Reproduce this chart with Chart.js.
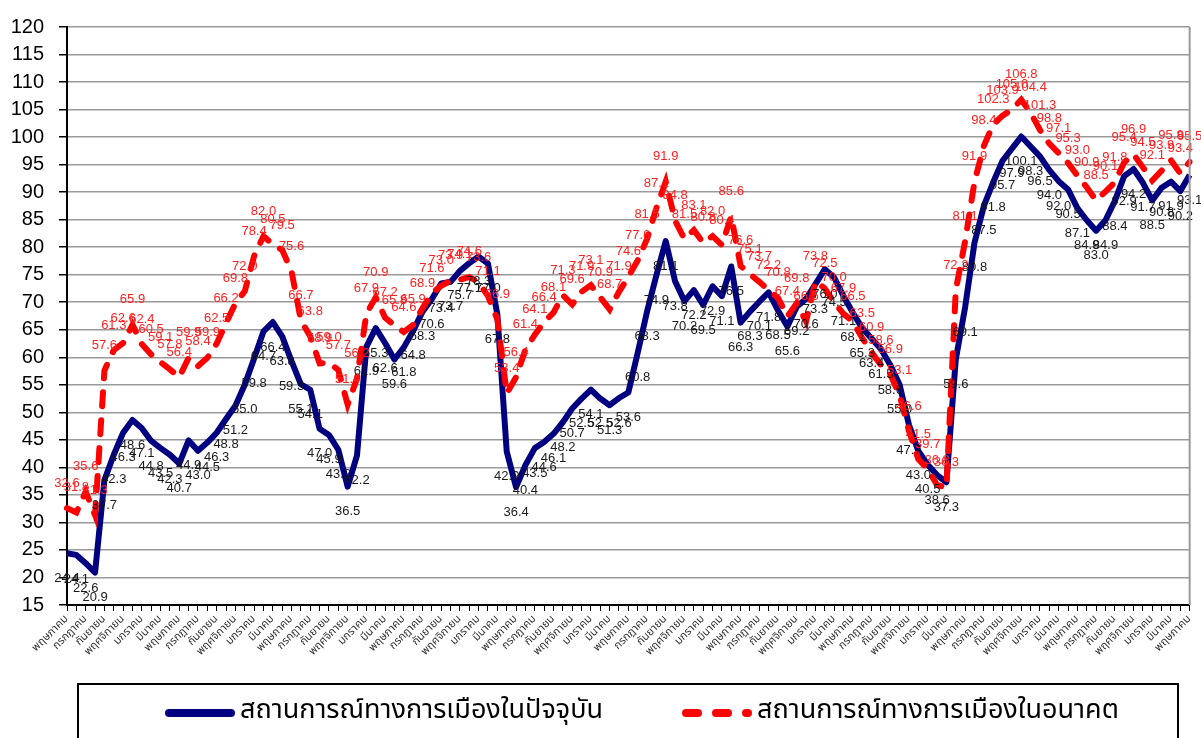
<!DOCTYPE html>
<html>
<head>
<meta charset="utf-8">
<script src="https://cdn.jsdelivr.net/npm/chart.js@4.4.1/dist/chart.umd.min.js"></script>
<style>
  html, body { margin: 0; padding: 0; background: #fff; }
  #wrap { width: 1201px; height: 738px; overflow: hidden; }
</style>
</head>
<body>
<div id="wrap"><canvas id="politicsChart" width="1201" height="738"></canvas></div>
<script>
// month names, the series starts at พฤษภาคม and runs 121 months
const MONTH_NAMES = ['มกราคม', 'กุมภาพันธ์', 'มีนาคม', 'เมษายน', 'พฤษภาคม', 'มิถุนายน',
  'กรกฎาคม', 'สิงหาคม', 'กันยายน', 'ตุลาคม', 'พฤศจิกายน', 'ธันวาคม'];
const FIRST_MONTH = 4;
const POINT_COUNT = 121;

const SERIES_NAMES = ['สถานการณ์ทางการเมืองในปัจจุบัน', 'สถานการณ์ทางการเมืองในอนาคต'];

const currentSituation = [
  24.4, 24.1, 22.6, 20.9, 37.7, 42.3, 46.3, 48.6, 47.1, 44.8,
  43.5, 42.3, 40.7, 44.9, 43.0, 44.5, 46.3, 48.8, 51.2, 55.0,
  59.8, 64.7, 66.4, 63.8, 59.3, 55.1, 54.1, 47.0, 45.9, 43.2,
  36.5, 42.2, 61.9, 65.3, 62.6, 59.6, 61.8, 64.8, 68.3, 70.6,
  73.4, 73.7, 75.7, 77.1, 78.3, 77.0, 67.8, 42.9, 36.4, 40.4,
  43.5, 44.6, 46.1, 48.2, 50.7, 52.5, 54.1, 52.5, 51.3, 52.6,
  53.6, 60.8, 68.3, 74.9, 81.1, 73.8, 70.2, 72.2, 69.5, 72.9,
  71.1, 76.5, 66.3, 68.3, 70.1, 71.8, 68.5, 65.6, 69.2, 70.6,
  73.3, 76.0, 74.5, 71.1, 68.1, 65.3, 63.4, 61.5, 58.6, 55.0,
  47.7, 43.0, 40.5, 38.6, 37.3, 59.6, 69.1, 80.8, 87.5, 91.8,
  95.7, 97.9, 100.1, 98.3, 96.5, 94.0, 92.0, 90.5, 87.1, 84.9,
  83.0, 84.9, 88.4, 92.9, 94.2, 91.7, 88.5, 90.8, 91.9, 90.2,
  93.1
];

const futureSituation = [
  32.6, 31.8, 35.6, 31.3, 57.6, 61.3, 62.6, 65.9, 62.4, 60.5,
  59.1, 57.8, 56.4, 59.9, 58.4, 59.9, 62.5, 66.2, 69.8, 72.0,
  78.4, 82.0, 80.5, 79.5, 75.6, 66.7, 63.8, 58.9, 59.0, 57.7,
  51.4, 56.2, 67.9, 70.9, 67.2, 65.8, 64.6, 65.9, 68.9, 71.6,
  73.0, 73.9, 74.1, 74.6, 73.6, 71.1, 66.9, 53.4, 56.4, 61.4,
  64.1, 66.4, 68.1, 71.3, 69.6, 71.9, 73.1, 70.9, 68.7, 71.9,
  74.6, 77.6, 81.5, 87.1, 91.9, 84.8, 81.5, 83.1, 80.8, 82.0,
  80.4, 85.6, 76.6, 75.1, 73.7, 72.2, 70.8, 67.4, 69.8, 66.5,
  73.8, 72.5, 70.0, 67.9, 66.5, 63.5, 60.9, 58.6, 56.9, 53.1,
  46.6, 41.5, 39.7, 36.8, 36.3, 72.2, 81.1, 91.9, 98.4, 102.3,
  103.9, 105.0, 106.8, 104.4, 101.3, 98.8, 97.1, 95.3, 93.0, 90.9,
  88.5, 90.1, 91.8, 95.4, 96.9, 94.5, 92.1, 93.9, 95.8, 93.4,
  95.5
];

const Y_MIN = 15;
const Y_MAX = 120;
const Y_STEP = 5;

const months = Array.from({ length: POINT_COUNT }, (_, i) => MONTH_NAMES[(FIRST_MONTH + i) % 12]);

const NUM_FONT = '"Liberation Sans", Arial, sans-serif';
const THAI_FONT = '"Noto Sans Thai", "Noto Sans Thai UI", Tahoma, Loma, Garuda, "Noto Sans", sans-serif';

// value labels, red above the dashed line, dark below the solid one
const pointLabels = {
  id: 'pointLabels',
  afterDatasetsDraw(chart) {
    const ctx = chart.ctx;
    chart.data.datasets.forEach((ds, di) => {
      const meta = chart.getDatasetMeta(di);
      ctx.save();
      ctx.font = '13px ' + NUM_FONT;
      ctx.fillStyle = ds.labelColor;
      ctx.textAlign = 'center';
      ctx.textBaseline = 'middle';
      meta.data.forEach((pt, i) => {
        ctx.fillText(ds.data[i].toFixed(1), pt.x, pt.y + ds.labelOffset);
      });
      ctx.restore();
    });
  }
};

// plot frame on the right and the boxed legend underneath
const frameAndLegend = {
  id: 'frameAndLegend',
  afterDraw(chart) {
    const ctx = chart.ctx;
    const area = chart.chartArea;
    ctx.save();
    ctx.strokeStyle = '#999';
    ctx.lineWidth = 2;
    ctx.beginPath();
    ctx.moveTo(area.right, area.top);
    ctx.lineTo(area.right, area.bottom);
    ctx.stroke();

    ctx.strokeStyle = '#000';
    ctx.lineWidth = 2;
    ctx.strokeRect(78, 684, 1100, 80);

    const items = [
      { x: 169, color: '#000080', dash: [], text: SERIES_NAMES[0] },
      { x: 686, color: '#ff0000', dash: [12, 18], text: SERIES_NAMES[1] }
    ];
    items.forEach((it) => {
      ctx.strokeStyle = it.color;
      ctx.lineWidth = 8;
      ctx.lineCap = 'round';
      ctx.setLineDash(it.dash);
      ctx.beginPath();
      ctx.moveTo(it.x, 713);
      ctx.lineTo(it.x + 62, 713);
      ctx.stroke();
      ctx.setLineDash([]);
      ctx.fillStyle = '#000';
      ctx.font = '27px ' + THAI_FONT;
      ctx.textAlign = 'left';
      ctx.textBaseline = 'middle';
      ctx.fillText(it.text, it.x + 71, 713);
    });
    ctx.restore();
  }
};

new Chart(document.getElementById('politicsChart'), {
  type: 'line',
  data: {
    labels: months,
    datasets: [
      {
        label: SERIES_NAMES[0],
        data: currentSituation,
        borderColor: '#000080',
        borderWidth: 6,
        borderJoinStyle: 'round',
        pointRadius: 0,
        tension: 0,
        order: 1,
        labelColor: '#1a1a1a',
        labelOffset: 25
      },
      {
        label: SERIES_NAMES[1],
        data: futureSituation,
        borderColor: '#ff0000',
        borderWidth: 6,
        borderDash: [14, 14],
        borderCapStyle: 'round',
        pointRadius: 0,
        tension: 0,
        order: 0,
        labelColor: '#ff2020',
        labelOffset: -25
      }
    ]
  },
  options: {
    responsive: false,
    animation: false,
    layout: { padding: { top: 17, right: 9, bottom: 63, left: 0 } },
    plugins: { legend: { display: false }, tooltip: { enabled: false } },
    scales: {
      x: {
        offset: false,
        grid: { drawOnChartArea: false, drawTicks: true, tickLength: 6, color: '#000', lineWidth: 1 },
        border: { color: '#000', width: 2 },
        ticks: {
          autoSkip: false,
          minRotation: 45,
          maxRotation: 45,
          padding: 2,
          color: '#333',
          font: { size: 11, family: THAI_FONT },
          callback: (v, i) => (i % 2 === 0 ? months[i] : '')
        },
        afterFit: (scale) => { scale.height = 70; }
      },
      y: {
        min: Y_MIN,
        max: Y_MAX,
        ticks: { stepSize: Y_STEP, color: '#000', padding: 15, font: { size: 20, family: NUM_FONT } },
        grid: { color: '#9a9a9a', lineWidth: 1.5, tickColor: '#000', tickLength: 8 },
        border: { color: '#000', width: 2 },
        afterFit: (scale) => { scale.width = 67; }
      }
    }
  },
  plugins: [pointLabels, frameAndLegend]
});
</script>
</body>
</html>
